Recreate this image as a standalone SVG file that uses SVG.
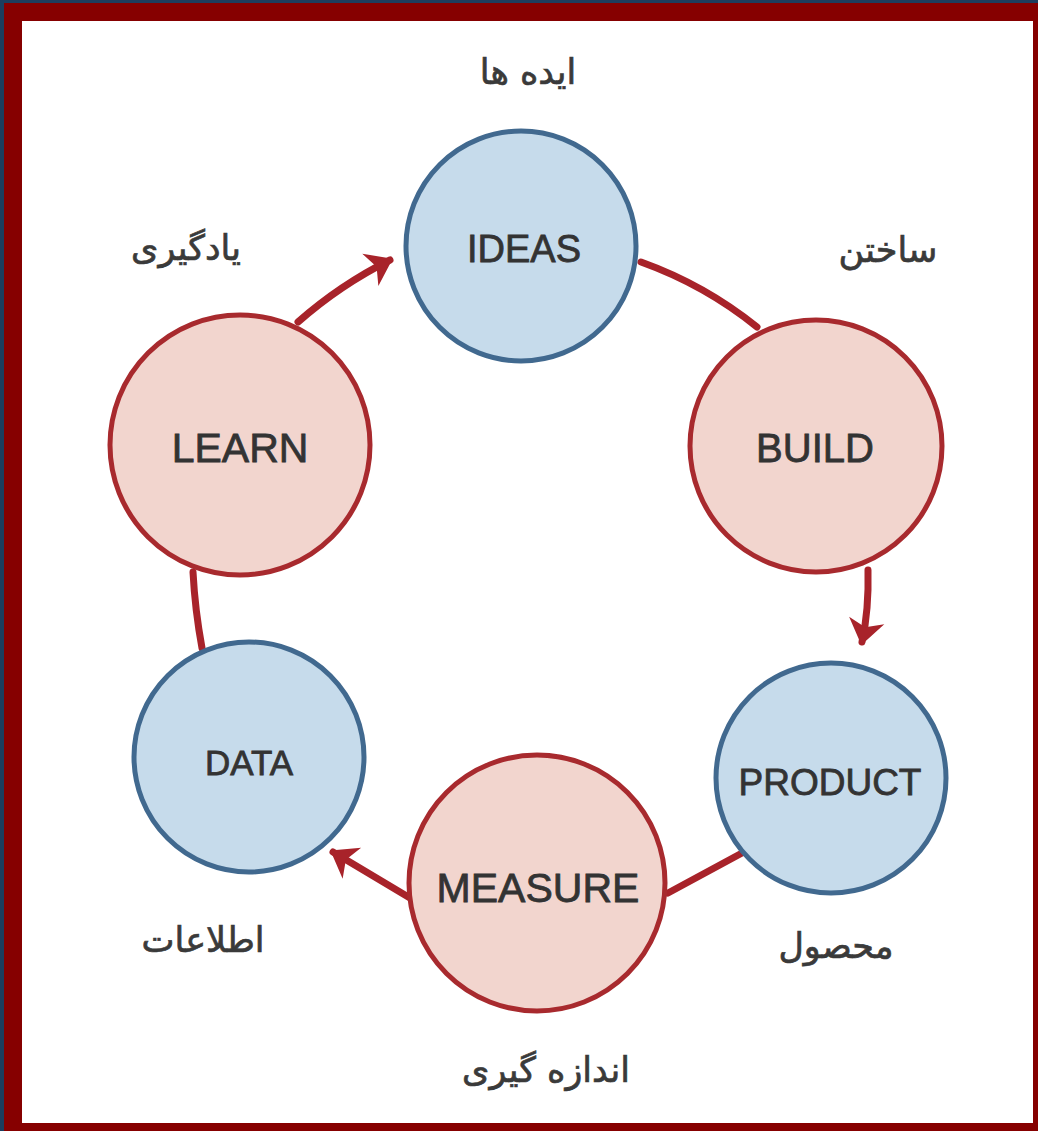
<svg xmlns="http://www.w3.org/2000/svg" width="1038" height="1131" viewBox="0 0 1038 1131">
<style>
.blue{fill:#c6dbeb;stroke:#41698f;stroke-width:5}
.red{fill:#f2d5ce;stroke:#a82a2e;stroke-width:5}
.lbl{font-family:"Liberation Sans",Arial,sans-serif;fill:#333333;stroke:#333333;stroke-width:0.8;text-anchor:middle}
.fa{font-family:"DejaVu Sans",sans-serif;font-size:35px;fill:#3a3a3a;stroke:#3a3a3a;stroke-width:0.7;text-anchor:middle}
.conn{fill:none;stroke:#a8232a;stroke-width:7;stroke-linecap:round}
</style>
<defs>
<marker id="ah" markerUnits="userSpaceOnUse" markerWidth="44" markerHeight="44" viewBox="-22 -22 44 44" refX="6" refY="0" orient="auto">
<path d="M-16,-18 L9,0 L-16,18 L-9,0 Z" fill="#a8232a"/>
</marker>
</defs>
<rect x="0" y="0" width="1038" height="1131" fill="#1d3e5e"/>
<rect x="4" y="3" width="1034" height="1128" fill="#860000"/>
<rect x="22" y="21" width="1011" height="1102" fill="#ffffff"/>
<g id="connectors">
<path class="conn" d="M641,262 Q705,285 757,327"/>
<path class="conn" d="M868,570 Q869,610 862,642" marker-end="url(#ah)"/>
<path class="conn" d="M742,853 L668,893"/>
<path class="conn" d="M410,898 L333,852" marker-end="url(#ah)"/>
<path class="conn" d="M202,648 Q195,610 193,572"/>
<path class="conn" d="M298,322 Q340,285 390,260" marker-end="url(#ah)"/>
</g>
<g id="ideas"><circle class="blue" cx="521" cy="246" r="115"/><text class="lbl" x="524" y="262" font-size="38">IDEAS</text></g>
<g id="build"><circle class="red" cx="816" cy="446" r="126"/><text class="lbl" x="815" y="462" font-size="40">BUILD</text></g>
<g id="product"><circle class="blue" cx="831" cy="778" r="115"/><text class="lbl" x="830" y="795" font-size="37">PRODUCT</text></g>
<g id="measure"><circle class="red" cx="537" cy="883" r="128"/><text class="lbl" x="538" y="902" font-size="41">MEASURE</text></g>
<g id="data"><circle class="blue" cx="249" cy="757" r="115"/><text class="lbl" x="249" y="775" font-size="35">DATA</text></g>
<g id="learn"><circle class="red" cx="240" cy="445" r="130"/><text class="lbl" x="240" y="462" font-size="41">LEARN</text></g>
<g id="labels">
<text class="fa" x="528" y="84">ایده ها</text>
<text class="fa" x="888" y="262">ساختن</text>
<text class="fa" x="186" y="260">یادگیری</text>
<text class="fa" x="203" y="952">اطلاعات</text>
<text class="fa" x="836" y="958">محصول</text>
<text class="fa" x="546" y="1082">اندازه گیری</text>
</g>
</svg>
